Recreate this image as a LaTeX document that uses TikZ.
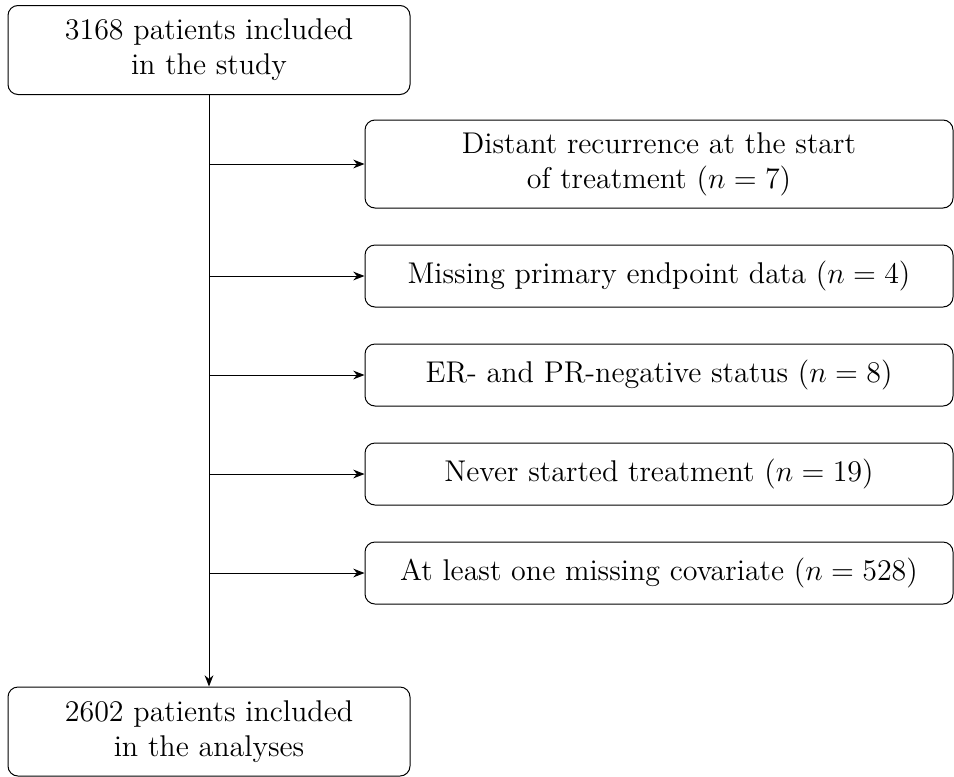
\documentclass[tikz,border=0pt]{standalone}
\usepackage{amsmath}
\usepackage{tikz}
\usetikzlibrary{positioning}
\usetikzlibrary{arrows.meta}

\tikzset{
    flowbox/.style={draw, rounded corners=4pt, align=center, font=\large, inner sep=2pt},
    leftbox/.style={flowbox, minimum width=160.8pt, minimum height=35.6pt},
    rightbox/.style={flowbox, minimum width=235.2pt, minimum height=24.8pt},
    flowarrow/.style={-{Stealth[length=4.5pt,width=3.5pt]}}
}

\begin{document}
\begin{tikzpicture}[x=1pt, y=1pt, node distance=14.4pt]
                \useasboundingbox (0,0) rectangle (381.6,-310.4);
                \node[leftbox] (start) at (83.6,-20) {3168 patients included\\in the study};
                \node[rightbox, minimum height=35.2pt] (excl1) at (263.6,-65.6) {Distant recurrence at the start\\of treatment $(n = 7)$};
                \node[rightbox, below=of excl1] (excl2) {Missing primary endpoint data $(n = 4)$};
                \node[rightbox, below=of excl2] (excl3) {ER- and PR-negative status $(n = 8)$};
                \node[rightbox, below=of excl3] (excl4) {Never started treatment $(n = 19)$};
                \node[rightbox, below=of excl4] (excl5) {At least one missing covariate $(n = 528)$};
                \node[leftbox] (final) at (83.6,-292.6) {2602 patients included\\in the analyses};
                \draw[flowarrow] (start.south) -- (final.north);
                \foreach \k in {1,...,5}
                    \draw[flowarrow] (start.south |- excl\k.west) -- (excl\k.west);
            \end{tikzpicture}
\end{document}
